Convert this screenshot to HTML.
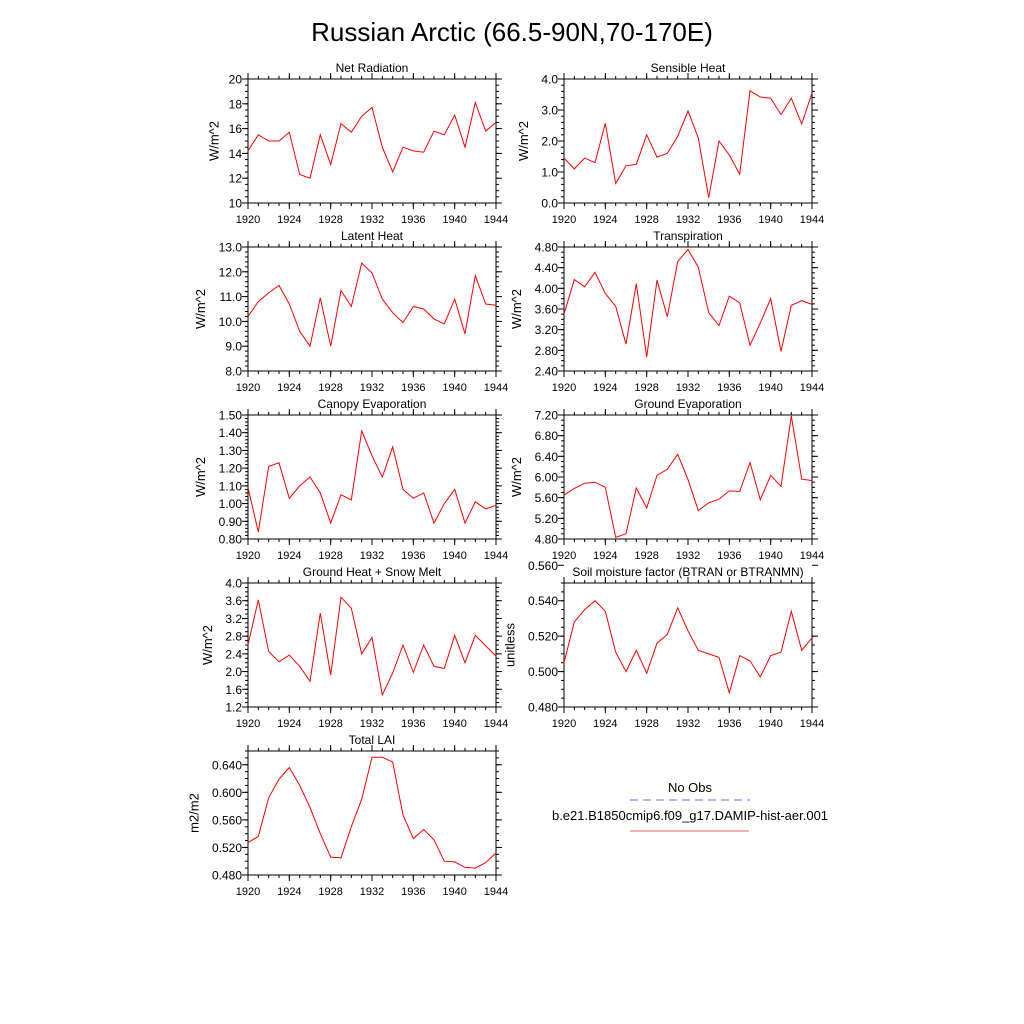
<!DOCTYPE html>
<html><head><meta charset="utf-8"><style>
html,body{margin:0;padding:0;background:#fff;width:1024px;height:1024px;overflow:hidden}
svg text{font-family:"Liberation Sans",sans-serif;fill:#000}
</style></head><body>
<svg id="fig" width="1024" height="1024" viewBox="0 0 1024 1024" xmlns="http://www.w3.org/2000/svg">
<rect width="1024" height="1024" fill="#fff"/>
<text x="512" y="41" font-size="26" text-anchor="middle">Russian Arctic (66.5-90N,70-170E)</text>
<g>
<text x="690" y="792" font-size="13" text-anchor="middle">No Obs</text>
<line x1="630" y1="800" x2="750" y2="800" stroke="#6a6aff" stroke-width="1" stroke-dasharray="8,5"/>
<text x="690" y="820" font-size="13" text-anchor="middle">b.e21.B1850cmip6.f09_g17.DAMIP-hist-aer.001</text>
<line x1="630" y1="831" x2="749" y2="831" stroke="#f08080" stroke-width="1.2"/>
</g>
</svg>
<script>
const years = [1920,1921,1922,1923,1924,1925,1926,1927,1928,1929,1930,1931,1932,1933,1934,1935,1936,1937,1938,1939,1940,1941,1942,1943,1944];
const xTickLabels = [1920,1924,1928,1932,1936,1940,1944];
const netRad = [14.2,15.5,15.0,15.0,15.7,12.3,12.0,15.5,13.1,16.4,15.7,17.0,17.7,14.5,12.5,14.5,14.2,14.1,15.8,15.5,17.1,14.5,18.1,15.8,16.5];
const sensible = [1.45,1.1,1.45,1.3,2.57,0.63,1.2,1.25,2.2,1.48,1.6,2.15,2.97,2.1,0.17,2.0,1.55,0.93,3.62,3.42,3.38,2.85,3.38,2.55,3.55];
const latent = [10.2,10.8,11.15,11.45,10.7,9.6,9.0,10.95,9.0,11.25,10.6,12.35,11.95,10.9,10.35,9.95,10.6,10.5,10.1,9.9,10.9,9.5,11.85,10.7,10.65];
const transp = [3.5,4.17,4.03,4.31,3.9,3.65,2.92,4.09,2.67,4.16,3.45,4.52,4.75,4.41,3.53,3.28,3.85,3.72,2.9,3.33,3.8,2.78,3.67,3.76,3.69];
const canopy = [1.09,0.84,1.21,1.23,1.03,1.1,1.15,1.06,0.89,1.05,1.02,1.41,1.27,1.15,1.32,1.08,1.03,1.06,0.89,1.0,1.08,0.89,1.01,0.97,0.99];
const groundEvap = [5.65,5.78,5.88,5.9,5.8,4.83,4.9,5.79,5.4,6.03,6.15,6.44,5.95,5.35,5.5,5.57,5.73,5.72,6.28,5.56,6.03,5.82,7.18,5.96,5.93];
const groundHeat = [2.6,3.62,2.45,2.22,2.37,2.12,1.78,3.32,1.92,3.68,3.43,2.4,2.77,1.47,1.97,2.6,1.98,2.6,2.12,2.07,2.82,2.2,2.82,2.58,2.35];
const soilMoist = [0.505,0.528,0.535,0.540,0.534,0.511,0.500,0.512,0.499,0.516,0.521,0.536,0.523,0.512,0.510,0.508,0.488,0.509,0.506,0.497,0.509,0.511,0.534,0.512,0.519];
const lai = [0.527,0.536,0.592,0.619,0.636,0.610,0.578,0.540,0.506,0.505,0.550,0.590,0.651,0.651,0.644,0.567,0.533,0.546,0.531,0.500,0.499,0.491,0.490,0.498,0.512];

const NS = 'http://www.w3.org/2000/svg';
const svg = document.getElementById('fig');
function mk(tag, attrs, parent){const e=document.createElementNS(NS,tag);for(const k in attrs)e.setAttribute(k,attrs[k]);(parent||svg).appendChild(e);return e;}

const panels = [
 {id:'net-radiation',title:'Net Radiation',unit:'W/m^2',data:netRad,x:248,y:79,min:10,max:20,step:2,minor:0.5,dec:0},
 {id:'sensible-heat',title:'Sensible Heat',unit:'W/m^2',data:sensible,x:564,y:79,min:0,max:4,step:1,minor:0.2,dec:1},
 {id:'latent-heat',title:'Latent Heat',unit:'W/m^2',data:latent,x:248,y:247,min:8,max:13,step:1,minor:0.2,dec:1},
 {id:'transpiration',title:'Transpiration',unit:'W/m^2',data:transp,x:564,y:247,min:2.4,max:4.8,step:0.4,minor:0.1,dec:2},
 {id:'canopy-evaporation',title:'Canopy Evaporation',unit:'W/m^2',data:canopy,x:248,y:415,min:0.8,max:1.5,step:0.1,minor:0.02,dec:2},
 {id:'ground-evaporation',title:'Ground Evaporation',unit:'W/m^2',data:groundEvap,x:564,y:415,min:4.8,max:7.2,step:0.4,minor:0.1,dec:2},
 {id:'ground-heat-snow-melt',title:'Ground Heat + Snow Melt',unit:'W/m^2',data:groundHeat,x:248,y:583,min:1.2,max:4.0,step:0.4,minor:0.1,dec:1},
 {id:'soil-moisture-factor',title:'Soil moisture factor (BTRAN or BTRANMN)',unit:'unitless',data:soilMoist,x:564,y:583,min:0.48,max:0.55,step:0.02,minor:0.005,dec:3},
 {id:'total-lai',title:'Total LAI',unit:'m2/m2',data:lai,x:248,y:751,min:0.48,max:0.66,step:0.04,minor:0.01,dec:3,topMax:0.64}
];
const W=248,H=124;
panels.forEach(p=>{
  const g=mk('g',{});
  
  
  const sx=v=>p.x+(v-years[0])/(years[years.length-1]-years[0])*W;
  const sy=v=>p.y+H-(v-p.min)/(p.max-p.min)*H;
  const ax=mk('g',{stroke:'#000','stroke-width':1},g);
  
  
  // minor y ticks
  const nMin=Math.round((p.max-p.min)/p.minor);
  for(let i=0;i<=nMin;i++){const yy=sy(p.min+i*p.minor);
    mk('line',{x1:p.x-3,x2:p.x,y1:yy,y2:yy},ax);mk('line',{x1:p.x+W,x2:p.x+W+3,y1:yy,y2:yy},ax);}
  // minor x ticks
  for(const yr of years){const xx=sx(yr);
    mk('line',{x1:xx,x2:xx,y1:p.y+H,y2:p.y+H+3},ax);mk('line',{x1:xx,x2:xx,y1:p.y-3,y2:p.y},ax);}
  // major y ticks + labels
  const lim=p.topMax!==undefined?p.topMax:p.max;
  const nMaj=Math.round((lim-p.min)/p.step);
  let maxLen=0;
  for(let i=0;i<=nMaj;i++){const v=p.min+i*p.step;const yy=sy(v);
    mk('line',{x1:p.x-6,x2:p.x,y1:yy,y2:yy},ax);mk('line',{x1:p.x+W,x2:p.x+W+6,y1:yy,y2:yy},ax);
    const t=mk('text',{x:p.x-6,y:yy+4.5,'font-size':12,'text-anchor':'end',stroke:'none'},g);
    
    
    t.textContent=v.toFixed(p.dec);maxLen=Math.max(maxLen,t.textContent.length);}
  for(const yr of xTickLabels){const xx=sx(yr);
    mk('line',{x1:xx,x2:xx,y1:p.y+H,y2:p.y+H+6},ax);mk('line',{x1:xx,x2:xx,y1:p.y-6,y2:p.y},ax);
    const t=mk('text',{x:xx,y:p.y+H+20,'font-size':11,'text-anchor':'middle'},g);
    
    
    t.textContent=yr;}
  const fr=mk('rect',{x:p.x,y:p.y,width:W,height:H,fill:'none',stroke:'#000','stroke-width':1},g);
  
  
  const tt=mk('text',{x:p.x+W/2,y:p.y-7,'font-size':12,'text-anchor':'middle'},g);
  
  
  tt.textContent=p.title;
  const yx=p.x-10-maxLen*6.7-6;
  const yt=mk('text',{x:yx,y:p.y+H/2,'font-size':13,'text-anchor':'middle',transform:'rotate(-90 '+yx+' '+(p.y+H/2)+')'},g);
  
  
  yt.textContent=p.unit;
  const pts=p.data.map((v,i)=>sx(years[i]).toFixed(1)+','+sy(v).toFixed(1)).join(' ');
  const ln=mk('polyline',{points:pts,fill:'none',stroke:'#ff0000','stroke-width':1},g);
  
  
});
</script>
</body></html>
